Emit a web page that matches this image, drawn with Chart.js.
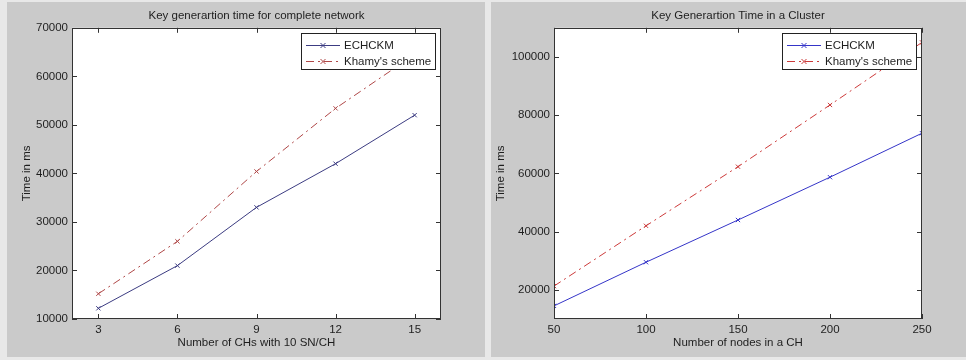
<!DOCTYPE html>
<html>
<head>
<meta charset="utf-8">
<script src="https://cdn.jsdelivr.net/npm/chart.js@4.4.0/dist/chart.umd.min.js"></script>
<style>
  body { margin: 0; background: #e8e8e8; width: 966px; height: 360px; overflow: hidden; position: relative; }
  .panel { position: absolute; top: 2px; height: 355px; background: #cacaca; }
  #leftPanel { left: 7px; width: 478px; }
  #rightPanel { left: 491px; width: 475px; }
  canvas { display: block; }
</style>
</head>
<body>
<div class="panel" id="leftPanel"><canvas id="chartLeft" width="478" height="355"></canvas></div>
<div class="panel" id="rightPanel"><canvas id="chartRight" width="475" height="355"></canvas></div>
<script>
// left figure - complete network
const chsInNetwork = [3, 6, 9, 12, 15];
const echckmNetwork = [12200, 21000, 33000, 42000, 52000];
const khamyNetwork = [15200, 26000, 40400, 53400, 64500];
const leftXTicks = [3, 6, 9, 12, 15];
const leftYTicks = [10000, 20000, 30000, 40000, 50000, 60000, 70000];

// right figure - one cluster
const nodesInCH = [50, 100, 150, 200, 250];
const echckmCluster = [14500, 29500, 44000, 58700, 73800];
const khamyCluster = [21300, 42000, 62300, 83500, 105000];
const rightXTicks = [50, 100, 150, 200, 250];
const rightYTicks = [20000, 40000, 60000, 80000, 100000];

const FONT = '"Liberation Sans", Arial, sans-serif';
const INK = '#1e1e1e';

function pts(xs, ys) {
  return xs.map((x, i) => ({ x: x, y: ys[i] }));
}

function drawCross(ctx, x, y, r) {
  ctx.beginPath();
  ctx.moveTo(x - r, y - r); ctx.lineTo(x + r, y + r);
  ctx.moveTo(x - r, y + r); ctx.lineTo(x + r, y - r);
  ctx.stroke();
}

// white axes area, matlab style box with inward ticks
const matlabBox = {
  id: 'matlabBox',
  beforeDatasetsDraw(chart) {
    const { ctx, chartArea: a } = chart;
    ctx.save();
    ctx.fillStyle = '#fff';
    ctx.fillRect(a.left, a.top, a.right - a.left, a.bottom - a.top);
    ctx.restore();
  },
  afterDatasetsDraw(chart) {
    const { ctx, chartArea: a, scales } = chart;
    const x = scales.x, y = scales.y;
    ctx.save();
    ctx.strokeStyle = '#333';
    ctx.lineWidth = 1;
    ctx.strokeRect(Math.round(a.left) + 0.5, Math.round(a.top) + 0.5,
      Math.round(a.right - a.left) - 1, Math.round(a.bottom - a.top) - 1);
    ctx.beginPath();
    x.ticks.forEach(t => {
      const px = Math.round(x.getPixelForValue(t.value)) + 0.5;
      ctx.moveTo(px, a.bottom); ctx.lineTo(px, a.bottom - 5);
      ctx.moveTo(px, a.top); ctx.lineTo(px, a.top + 5);
    });
    y.ticks.forEach(t => {
      const py = Math.round(y.getPixelForValue(t.value)) + 0.5;
      ctx.moveTo(a.left, py); ctx.lineTo(a.left + 5, py);
      ctx.moveTo(a.right, py); ctx.lineTo(a.right - 5, py);
    });
    ctx.stroke();
    ctx.restore();
  }
};

// legend box drawn on top of the lines, like matlab does
const boxLegend = {
  id: 'boxLegend',
  afterDraw(chart) {
    const { ctx, chartArea: a } = chart;
    const sets = chart.data.datasets;
    ctx.save();
    ctx.font = '11.5px ' + FONT;
    const textW = Math.max(...sets.map(d => ctx.measureText(d.label).width));
    const w = Math.round(textW + 48);
    const h = 37;
    const left = Math.round(a.right - 5 - w);
    const top = Math.round(a.top + 5);
    ctx.fillStyle = '#fff';
    ctx.fillRect(left, top, w, h);
    ctx.strokeStyle = '#222';
    ctx.lineWidth = 1;
    ctx.strokeRect(left + 0.5, top + 0.5, w - 1, h - 1);
    sets.forEach((d, i) => {
      const cy = top + 12 + i * 16 + 0.5;
      ctx.strokeStyle = d.borderColor;
      ctx.setLineDash(d.borderDash || []);
      ctx.beginPath();
      ctx.moveTo(left + 5, cy); ctx.lineTo(left + 39, cy);
      ctx.stroke();
      ctx.setLineDash([]);
      drawCross(ctx, left + 22, cy, 2.5);
      ctx.fillStyle = INK;
      ctx.textBaseline = 'middle';
      ctx.fillText(d.label, left + 43, cy);
    });
    ctx.restore();
  }
};

function lineSet(label, data, color, dashed) {
  return {
    label: label,
    data: data,
    borderColor: color,
    borderWidth: 1,
    borderDash: dashed ? [8, 4, 2, 4] : [],
    pointStyle: 'crossRot',
    pointRadius: 3,
    pointBorderWidth: 1,
    pointBorderColor: color,
    pointBackgroundColor: color,
    fill: false,
    tension: 0
  };
}

function makeChart(id, cfg) {
  return new Chart(document.getElementById(id), {
    type: 'line',
    data: {
      datasets: [
        lineSet('ECHCKM', pts(cfg.xs, cfg.a), cfg.colA, false),
        lineSet("Khamy's scheme", pts(cfg.xs, cfg.b), cfg.colB, true)
      ]
    },
    options: {
      responsive: false,
      animation: false,
      layout: { padding: { left: 0, right: 44, top: 0, bottom: 0 } },
      plugins: {
        legend: { display: false },
        tooltip: { enabled: false },
        title: {
          display: true,
          fullSize: false,
          text: cfg.title,
          color: INK,
          font: { family: FONT, size: 11.5, weight: 'normal' },
          padding: { top: 7, bottom: 5 }
        }
      },
      scales: {
        x: {
          type: 'linear',
          min: cfg.xMin,
          max: cfg.xMax,
          afterBuildTicks: s => { s.ticks = cfg.xTicks.map(v => ({ value: v })); },
          afterFit: s => { s.height = 38; },
          grid: { display: false, drawTicks: false },
          border: { display: false },
          ticks: { color: INK, padding: 4, maxRotation: 0, font: { family: FONT, size: 11.5 } },
          title: {
            display: true,
            text: cfg.xTitle,
            color: INK,
            font: { family: FONT, size: 11.5 },
            padding: { top: 0, bottom: 7 }
          }
        },
        y: {
          min: cfg.yMin,
          max: cfg.yMax,
          afterBuildTicks: s => { s.ticks = cfg.yTicks.map(v => ({ value: v })); },
          afterFit: s => { s.width = cfg.yWidth; },
          grid: { display: false, drawTicks: false },
          border: { display: false },
          ticks: { color: INK, padding: 4, callback: v => String(v), font: { family: FONT, size: 11.5 } },
          title: {
            display: true,
            text: 'Time in ms',
            color: INK,
            font: { family: FONT, size: 11.5 },
            padding: { top: cfg.yTitlePad, bottom: 0 }
          }
        }
      }
    },
    plugins: [matlabBox, boxLegend]
  });
}

makeChart('chartLeft', {
  title: 'Key generartion time for complete network',
  xTitle: 'Number of CHs with 10 SN/CH',
  xs: chsInNetwork, a: echckmNetwork, b: khamyNetwork,
  colA: '#3c3c82', colB: '#b04848',
  xMin: 2, xMax: 16, xTicks: leftXTicks,
  yMin: 10000, yMax: 70000, yTicks: leftYTicks,
  yWidth: 65, yTitlePad: 13
});

makeChart('chartRight', {
  title: 'Key Generartion Time in a Cluster',
  xTitle: 'Number of nodes in a CH',
  xs: nodesInCH, a: echckmCluster, b: khamyCluster,
  colA: '#3535c8', colB: '#cc3a3a',
  xMin: 50, xMax: 250, xTicks: rightXTicks,
  yMin: 10000, yMax: 110000, yTicks: rightYTicks,
  yWidth: 63, yTitlePad: 3
});
</script>
</body>
</html>
